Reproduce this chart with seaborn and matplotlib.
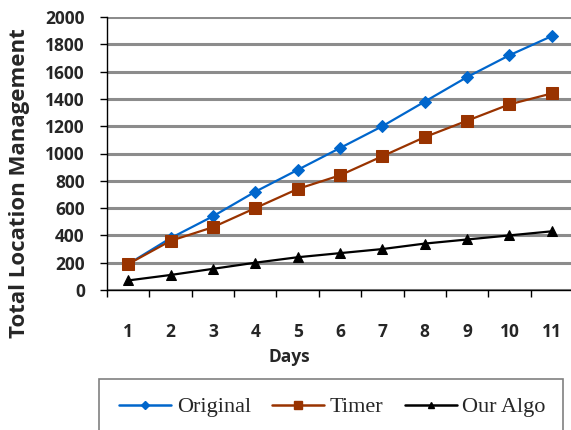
import matplotlib
matplotlib.use("Agg")
import matplotlib.pyplot as plt
from matplotlib.patches import Rectangle
from matplotlib.lines import Line2D
import seaborn as sns
import pandas as pd

days = [1, 2, 3, 4, 5, 6, 7, 8, 9, 10, 11]
original = [190, 380, 540, 720, 880, 1040, 1200, 1380, 1560, 1720, 1860]
timer = [190, 360, 460, 600, 740, 840, 980, 1120, 1240, 1360, 1440]
our_algo = [70, 110, 155, 200, 240, 270, 300, 340, 370, 400, 430]

series_names = ["Original", "Timer", "Our Algo"]
colors = ["#0066CC", "#993300", "#000000"]
markers = ["D", "s", "^"]
marker_sizes = [6, 8, 7.5]

df = pd.DataFrame({
    "Days": days * 3,
    "value": original + timer + our_algo,
    "series": [series_names[0]] * 11 + [series_names[1]] * 11 + [series_names[2]] * 11,
})

sns.set_theme(style="white")
plt.rcParams["font.family"] = ["Open Sans", "DejaVu Sans"]

W, H = 571, 430
fig = plt.figure(figsize=(W / 100, H / 100), dpi=100)
ax = fig.add_axes([107 / W, (H - 290) / H, 466 / W, 273 / H])

for name, c, m, ms in zip(series_names, colors, markers, marker_sizes):
    sub = df[df["series"] == name]
    sns.lineplot(data=sub, x="Days", y="value", ax=ax, color=c, marker=m,
                 markersize=ms, markeredgecolor=c, linewidth=1.6, legend=False,
                 zorder=3)

ax.set_xlim(0.5, 11.5)
ax.set_ylim(0, 2000)
ax.set_yticks(range(0, 2001, 200))
ax.set_xticks(days)
ax.set_xticks([d - 0.5 for d in days] + [11.5], minor=True)
ax.yaxis.grid(True, color="#8c8c8c", linewidth=2.2, zorder=0)
ax.xaxis.grid(False)
ax.set_axisbelow(True)

for s in ["top", "right"]:
    ax.spines[s].set_visible(False)
for s in ["left", "bottom"]:
    ax.spines[s].set_color("black")
    ax.spines[s].set_linewidth(1.0)
    ax.spines[s].set_zorder(4)

ax.tick_params(axis="x", which="major", length=0, pad=24, labelsize=12.5)
ax.tick_params(axis="x", which="minor", length=5, width=1, color="black",
               direction="out", bottom=True)
ax.tick_params(axis="y", which="major", length=5, width=1, color="black",
               direction="out", left=True, pad=11, labelsize=12.5)
for lbl in ax.get_xticklabels() + ax.get_yticklabels():
    lbl.set_fontweight("bold")
ax.set_xlabel("")
ax.set_ylabel("")

fig.text(289 / W, 1 - 357 / H, "Days", ha="center", va="center",
         fontsize=12.5, fontweight="bold")
fig.text(20 / W, 1 - 183 / H, "Total Location Management", ha="center",
         va="center", rotation=90, fontsize=16, fontweight="bold")

# legend box runs past the bottom edge
fig.patches.append(Rectangle((99 / W, -0.05), (563 - 99) / W, (1 - 379 / H) + 0.05,
                             transform=fig.transFigure, facecolor="white",
                             edgecolor="#808080", linewidth=1.2))
handles = [Line2D([], [], color=c, marker=m, markersize=ms * 0.65,
                  markeredgecolor=c, linewidth=1.8)
           for c, m, ms in zip(colors, markers, marker_sizes)]
fig.legend(handles, series_names, loc="center left",
           bbox_to_anchor=(119 / W, 1 - 407 / H), ncol=3, frameon=False,
           prop={"family": "Liberation Serif", "size": 16},
           handlelength=2.35, handletextpad=0.25, columnspacing=0.95,
           borderpad=0, borderaxespad=0)

fig.savefig("out.png", dpi=100)
